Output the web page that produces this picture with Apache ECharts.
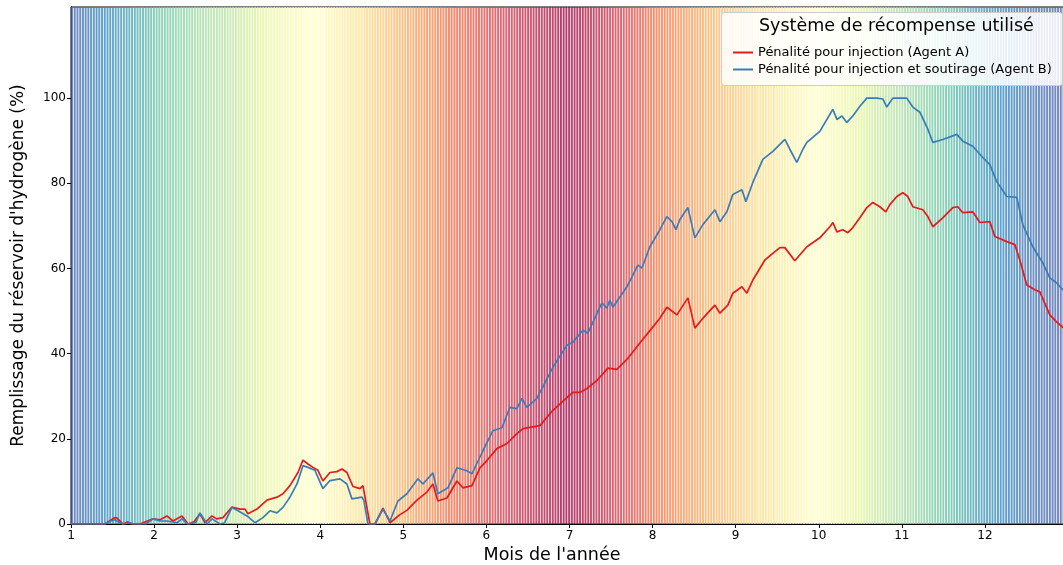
<!DOCTYPE html>
<html>
<head>
<meta charset="utf-8">
<script src="https://cdn.jsdelivr.net/npm/echarts@6/dist/echarts.min.js"></script>
<style>html,body{margin:0;padding:0;background:#fff}#c{width:1063px;height:565px}</style>
</head>
<body>
<div id="c"></div>
<script>
// ---- DATA ----
const monthTicks = [1,2,3,4,5,6,7,8,9,10,11,12];
const yTicks = [0,20,40,60,80,100];
const seriesNames = ['Pénalité pour injection (Agent A)', 'Pénalité pour injection et soutirage (Agent B)'];
const legendTitle = 'Système de récompense utilisé';

const dayLevels = [
96,95,95,94,94,93,93,92,92,91,91,90,90,89,89,88,88,87,87,86,86,85,85,84,84,83,83,82,82,81,80,
79,79,78,78,77,77,76,76,75,75,74,74,73,73,72,72,71,71,70,70,69,69,69,68,68,68,67,67,
66,66,65,65,64,64,63,62,62,61,60,60,59,58,58,57,56,56,55,55,54,54,53,53,52,52,51,51,50,50,50,
50,49,49,48,47,47,46,46,45,44,44,43,42,42,41,40,40,39,38,38,37,37,36,35,35,34,34,33,32,32,
31,30,30,29,29,28,27,27,26,26,25,25,24,23,23,22,22,21,20,20,19,19,18,18,17,17,16,16,15,15,14,
13,13,12,12,11,11,10,10,10,9,9,8,8,8,7,7,6,6,6,5,5,5,4,4,4,3,3,3,2,2,
1,1,2,2,2,3,3,4,4,5,5,6,6,7,7,8,9,9,10,10,11,12,12,13,14,14,15,16,17,18,19,
20,20,21,21,22,22,23,23,24,24,25,25,26,26,27,27,28,28,29,29,30,30,31,31,32,32,33,33,34,34,35,
35,36,36,37,37,38,38,39,39,40,40,41,41,42,42,43,43,44,44,45,45,46,46,47,47,48,48,49,49,50,
50,51,51,52,53,53,54,55,55,56,57,57,58,59,59,60,61,61,62,63,63,64,65,65,66,67,67,68,68,69,69,
70,71,71,72,72,73,74,74,75,75,76,77,77,78,78,79,80,80,81,81,82,82,83,84,84,85,85,86,86,87,
88,88,89,89,89,90,90,90,91,91,91,92,92,92,93,93,93,94,94,94,94,95,95,95,95,96,96,96,96,97,97
];

const monthsA = [1.000,1.409,1.47,1.529,1.554,1.626,1.686,1.72,1.830,1.987,2.071,2.155,2.227,2.336,2.408,2.48,2.552,2.613,2.697,2.75,2.829,2.937,3.034,3.094,3.130,3.238,3.359,3.479,3.551,3.635,3.732,3.792,3.852,3.912,3.972,4.032,4.117,4.201,4.261,4.321,4.394,4.478,4.514,4.598,4.658,4.755,4.839,4.959,5.043,5.164,5.284,5.356,5.416,5.525,5.645,5.717,5.826,5.922,6.006,6.126,6.247,6.367,6.439,6.644,6.800,6.969,7.041,7.125,7.209,7.330,7.462,7.570,7.703,7.847,7.992,8.088,8.172,8.293,8.425,8.509,8.605,8.750,8.810,8.906,8.966,9.075,9.135,9.207,9.352,9.532,9.592,9.712,9.857,10.013,10.134,10.170,10.218,10.290,10.350,10.410,10.495,10.579,10.651,10.735,10.807,10.856,10.940,11.012,11.072,11.132,11.253,11.313,11.373,11.493,11.614,11.674,11.734,11.854,11.939,12.059,12.119,12.264,12.360,12.420,12.504,12.601,12.661,12.781,12.865,12.937,13.0];
const valuesA = [0,0,0.8,1.5,1.4,0,0.5,0,0,1.2,1.0,1.9,0.7,1.9,0,0.5,2.4,0.3,1.9,1.2,1.5,4.0,3.5,3.5,2.4,3.5,5.6,6.3,7.1,9.0,12.1,15.0,14.1,13.3,12.6,10.1,12.1,12.3,12.9,12.1,8.8,8.3,9.0,0,0,3.7,0.3,2.2,3.2,5.6,7.5,9.4,5.4,6.1,10.1,8.5,9.0,13.2,14.9,17.7,18.9,21.2,22.4,23.1,26.7,29.7,30.9,30.9,31.8,33.7,36.6,36.3,38.9,42.5,46.0,48.3,50.9,49.1,53.1,46.0,48.3,51.4,49.5,51.4,54.2,55.7,54.2,57.3,62.0,64.9,64.9,61.8,65.1,67.2,69.8,70.8,68.6,69.1,68.4,69.6,71.9,74.3,75.5,74.5,73.3,75.0,76.9,77.8,76.9,74.5,73.8,72.2,69.8,71.9,74.3,74.5,73.1,73.3,70.8,71.0,67.5,66.3,65.6,62.0,56.1,55.0,54.5,49.1,47.4,46.2,45.5];

const monthsB = [1.000,1.409,1.48,1.529,1.57,1.626,1.710,1.76,1.90,1.987,2.071,2.155,2.276,2.336,2.40,2.50,2.552,2.637,2.697,2.793,2.85,2.937,3.010,3.118,3.214,3.310,3.395,3.479,3.551,3.635,3.720,3.792,3.852,3.936,4.032,4.117,4.237,4.321,4.381,4.502,4.526,4.574,4.658,4.755,4.839,4.935,5.043,5.176,5.236,5.356,5.416,5.537,5.645,5.765,5.826,5.958,6.078,6.187,6.283,6.367,6.427,6.487,6.608,6.800,6.969,7.041,7.161,7.221,7.390,7.450,7.486,7.522,7.691,7.823,7.871,7.968,8.088,8.172,8.233,8.281,8.329,8.425,8.509,8.605,8.750,8.810,8.894,8.966,9.075,9.123,9.207,9.327,9.448,9.592,9.652,9.736,9.809,9.857,10.013,10.170,10.218,10.278,10.338,10.410,10.495,10.579,10.699,10.771,10.819,10.892,11.060,11.132,11.217,11.313,11.373,11.493,11.662,11.734,11.854,11.963,12.059,12.143,12.264,12.384,12.456,12.576,12.697,12.781,12.865,12.937,13.0];
const valuesB = [0,0,0.7,1.0,0.5,0,0.3,0,0,1.2,0.7,0.7,0.3,1.2,0,0.3,2.6,0,1.2,0,0.3,3.9,3.1,1.9,0.3,1.5,3.1,2.6,3.9,6.3,9.4,13.7,13.3,12.6,8.3,10.2,10.6,9.4,5.9,6.3,5.5,0,0,3.5,0.7,5.4,7.1,10.6,9.4,12.0,7.1,8.5,13.2,12.5,11.8,17.2,21.9,22.6,27.4,27.1,29.5,27.4,29.5,36.8,42.0,42.7,45.5,44.8,51.9,50.7,52.6,50.9,55.7,60.8,60.1,65.1,69.1,72.2,71.0,69.1,71.5,74.3,67.2,70.3,73.8,71.0,73.3,77.4,78.5,75.7,80.2,85.6,87.5,90.3,88.0,84.9,88.0,89.6,92.2,97.4,95.0,95.8,94.3,95.8,98.1,100,100,99.8,97.9,100,100,97.9,96.7,92.7,89.6,90.3,91.5,89.9,88.7,86.3,84.4,80.4,76.9,76.7,70.3,65.1,61.3,57.8,56.6,55.0,54.5];

// ---- STYLE ----
const spectral = ['#9e0142','#d53e4f','#f46d43','#fdae61','#fee08b','#ffffbf','#e6f598','#abdda4','#66c2a5','#3288bd','#5e4fa2'];
function hex(c){return [parseInt(c.slice(1,3),16),parseInt(c.slice(3,5),16),parseInt(c.slice(5,7),16)];}
function cmap(t){
  t = Math.max(0, Math.min(1, t));
  const p = t * (spectral.length - 1), i = Math.min(Math.floor(p), spectral.length - 2), f = p - i;
  const a = hex(spectral[i]), b = hex(spectral[i+1]);
  const r = a.map((v,k)=>Math.round(v + (b[k]-v)*f));
  return 'rgba(' + r[0] + ',' + r[1] + ',' + r[2] + ',0.78)';
}
const dayStep = 12 / 365;
const bgData = dayLevels.map((lv, i) => [1 + i * dayStep, lv]);
const dataA = monthsA.map((m, i) => [m, valuesA[i]]);
const dataB = monthsB.map((m, i) => [m, valuesB[i]]);

const FONT = 'DejaVu Sans';
const chart = echarts.init(document.getElementById('c'), null, {renderer: 'canvas'});
chart.setOption({
  animation: false,
  backgroundColor: '#fff',
  grid: {left: 71, right: -5, top: 7, bottom: 41, outerBoundsMode: 'none', containLabel: false,
         show: true, borderColor: '#000', borderWidth: 1, backgroundColor: 'transparent'},
  xAxis: {
    type: 'value', min: 1, max: 13, interval: 1,
    name: "Mois de l'année", nameLocation: 'middle', nameGap: 18,
    nameTextStyle: {fontFamily: FONT, fontSize: 17.5, color: '#000', padding: [0, 35, 0, 0]},
    axisLine: {show: true, lineStyle: {color: '#000', width: 1}},
    axisTick: {show: true, length: 4, lineStyle: {color: '#000'}, customValues: monthTicks},
    axisLabel: {fontFamily: FONT, fontSize: 12, color: '#000', margin: 6, customValues: monthTicks},
    splitLine: {show: false}
  },
  yAxis: {
    type: 'value', min: 0, max: 121.4,
    name: "Remplissage du réservoir d'hydrogène (%)", nameLocation: 'middle', nameGap: 44,
    nameTextStyle: {fontFamily: FONT, fontSize: 17, color: '#000'},
    axisLine: {show: true, lineStyle: {color: '#000', width: 1}},
    axisTick: {show: true, length: 4, lineStyle: {color: '#000'}, customValues: yTicks},
    axisLabel: {fontFamily: FONT, fontSize: 12, color: '#000', margin: 5, customValues: yTicks},
    splitLine: {show: false}
  },
  legend: {
    left: 733, top: 46, orient: 'vertical', itemWidth: 20, itemHeight: 2, itemGap: 4,
    icon: 'rect', padding: 0, z: 10,
    textStyle: {fontFamily: FONT, fontSize: 13, color: '#000'},
    data: seriesNames
  },
  graphic: [
    {type: 'rect', left: 721, top: 12, z: 3, shape: {width: 341, height: 73, r: 3},
     style: {fill: 'rgba(255,255,255,0.85)', stroke: '#cccccc', lineWidth: 1}},
    {type: 'text', z: 11, left: 759, top: 17,
     style: {text: legendTitle, font: '17.5px "DejaVu Sans"', fill: '#000'}}
  ],
  series: [
    {
      type: 'custom', name: 'bg', silent: true, z: 1,
      data: bgData,
      renderItem: function (params, api) {
        const x0 = api.coord([api.value(0), 0])[0];
        const w = api.size([dayStep, 0])[0];
        return {
          type: 'rect',
          shape: {x: x0, y: params.coordSys.y, width: w * 0.72, height: params.coordSys.height},
          style: {fill: cmap(api.value(1) / 100)}
        };
      }
    },
    {type: 'line', name: seriesNames[0], data: dataA, showSymbol: false, z: 5,
     lineStyle: {color: '#e41a1c', width: 1.7}, itemStyle: {color: '#e41a1c'}},
    {type: 'line', name: seriesNames[1], data: dataB, showSymbol: false, z: 5,
     lineStyle: {color: '#377eb8', width: 1.7}, itemStyle: {color: '#377eb8'}}
  ]
});
</script>
</body>
</html>
